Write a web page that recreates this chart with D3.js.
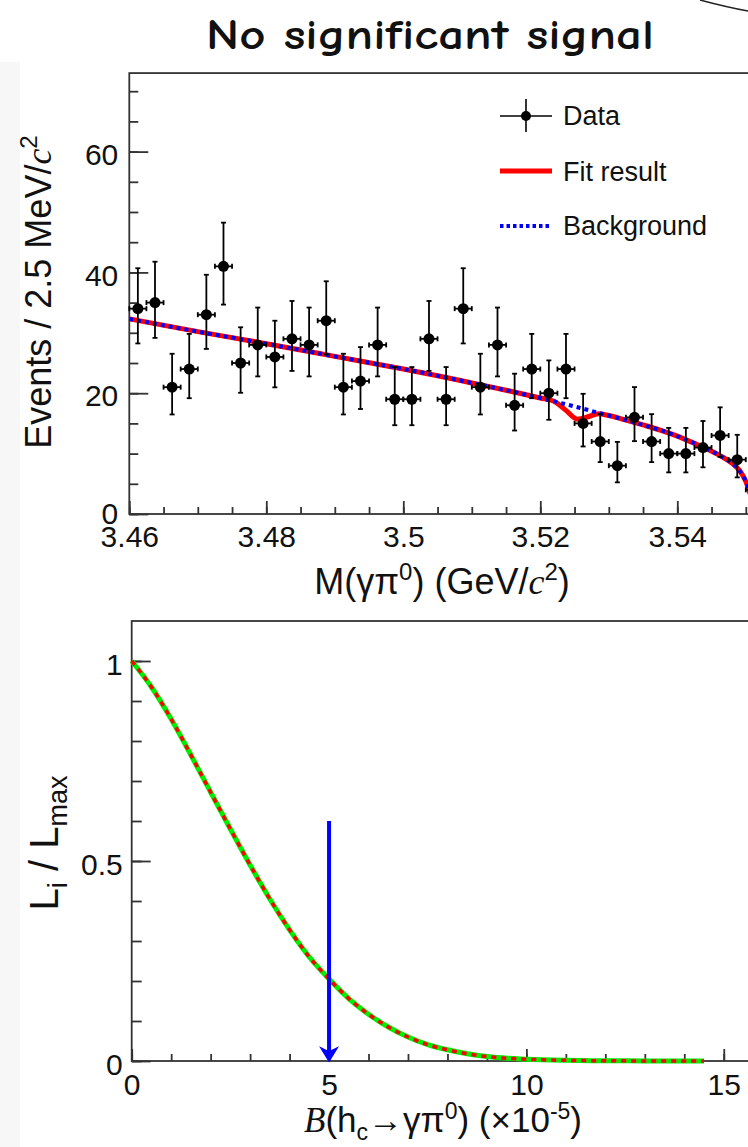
<!DOCTYPE html>
<html>
<head>
<meta charset="utf-8">
<script src="https://cdn.jsdelivr.net/npm/d3@7"></script>
<style>
  body { margin: 0; background: #fff; overflow: hidden; }
  svg { display: block; }
</style>
</head>
<body>
<svg id="chart"></svg>
<script>
// ---- top panel: M(gamma pi0) spectrum, 2.5 MeV bins ----
const binCenters = [3.46125, 3.46375, 3.46625, 3.46875, 3.47125, 3.47375, 3.47625, 3.47875, 3.48125, 3.48375,
    3.48625, 3.48875, 3.49125, 3.49375, 3.49625, 3.49875, 3.50125, 3.50375, 3.50625, 3.50875,
    3.51125, 3.51375, 3.51625, 3.51875, 3.52125, 3.52375, 3.52625, 3.52875, 3.53125, 3.53375,
    3.53625, 3.53875, 3.54125, 3.54375, 3.54625, 3.54875, 3.55125];
const counts = [34, 35, 21, 24, 33, 41, 25, 28, 26, 29, 28, 32, 21, 22, 28, 19, 19, 29, 19, 34,
    21, 28, 18, 24, 20, 24, 15, 12, 8, 16, 12, 10, 10, 11, 13, 9, 4];
const errLow = [5.76, 5.84, 4.52, 4.83, 5.67, 6.33, 4.93, 5.22, 5.03, 5.31, 5.22, 5.58, 4.52, 4.62, 5.22, 4.30, 4.30, 5.31, 4.30, 5.76,
    4.52, 5.22, 4.18, 4.83, 4.40, 4.83, 3.82, 3.41, 2.76, 3.94, 3.41, 3.11, 3.11, 3.27, 3.55, 2.94, 1.91];
const errHigh = [6.69, 6.77, 5.53, 5.82, 6.61, 7.24, 5.91, 6.18, 6.00, 6.27, 6.18, 6.53, 5.53, 5.63, 6.18, 5.33, 5.33, 6.27, 5.33, 6.69,
    5.53, 6.18, 5.23, 5.82, 5.43, 5.82, 4.90, 4.53, 3.94, 5.01, 4.53, 4.26, 4.26, 4.40, 4.66, 4.11, 3.16];
const halfBin = 0.00125;

const bkgMass = [3.460, 3.470, 3.480, 3.490, 3.500, 3.505, 3.510, 3.515, 3.520, 3.525, 3.530, 3.5325, 3.535, 3.5375, 3.540,
    3.5425, 3.545, 3.5465, 3.548, 3.549, 3.5495, 3.550, 3.5505, 3.551, 3.5515];
const bkgValue = [32.3, 30.2, 28.2, 26.1, 24.0, 22.9, 21.7, 20.5, 19.2, 17.8, 16.3, 15.55, 14.75, 13.9, 12.9,
    11.7, 10.4, 9.5, 8.4, 7.3, 6.5, 5.4, 3.8, 2.0, 0];

const fitMass = [3.460, 3.470, 3.480, 3.490, 3.500, 3.505, 3.510, 3.515, 3.520, 3.522, 3.5237, 3.5254, 3.527, 3.5285, 3.530,
    3.5325, 3.535, 3.5375, 3.540, 3.5425, 3.545, 3.5465, 3.548, 3.549, 3.5495, 3.550, 3.5505, 3.551, 3.5515];
const fitValue = [32.3, 30.2, 28.2, 26.1, 24.0, 22.9, 21.7, 20.5, 19.2, 18.65, 17.2, 15.7, 16.1, 16.6, 16.3,
    15.55, 14.75, 13.9, 12.9, 11.7, 10.4, 9.5, 8.4, 7.3, 6.5, 5.4, 3.8, 2.0, 0];

const topXMajor = [3.46, 3.48, 3.5, 3.52, 3.54];
const topXLabels = ["3.46", "3.48", "3.5", "3.52", "3.54"];
const topYMajor = [0, 20, 40, 60];

// ---- bottom panel: normalized likelihood vs branching fraction ----
const brValue = [0, 0.5, 1, 1.5, 2, 2.5, 3, 3.5, 4, 4.5, 5, 5.5, 6, 6.5, 7, 7.5, 8, 8.5, 9, 10, 11, 12, 13, 14.5];
const likelihood = [1.0, 0.935, 0.855, 0.765, 0.672, 0.58, 0.49, 0.405, 0.328, 0.26, 0.205, 0.156, 0.117, 0.085, 0.06,
    0.041, 0.028, 0.018, 0.011, 0.0045, 0.0017, 0.0006, 0.0002, 0];
const upperLimit = 5;
const arrowTop = 0.6;
const botXMajor = [0, 5, 10, 15];
const botYMajor = [0, 0.5, 1];
const botYLabels = ["0", "0.5", "1"];

const width = 748;
const height = 1147;
const tickFont = "'Liberation Sans', Arial, Helvetica, sans-serif";
const serifFont = "'Liberation Serif', 'Times New Roman', serif";
const axisColor = "#333";

const svg = d3.select("#chart")
    .attr("width", width)
    .attr("height", height)
    .attr("viewBox", [0, 0, width, height]);

// faint slide background strip on the left
svg.append("rect").attr("x", 0).attr("y", 62).attr("width", 20).attr("height", height - 62).attr("fill", "#f7f7f7");

// speech bubble edge at the top right
svg.append("path")
    .attr("d", "M700,0 Q726,7 748,11")
    .attr("fill", "none").attr("stroke", "#222").attr("stroke-width", 1.5);

svg.append("text")
    .attr("x", 430).attr("y", 49)
    .attr("text-anchor", "middle")
    .attr("font-family", "'Comic Sans MS', 'Comic Neue', 'DejaVu Sans', sans-serif")
    .attr("font-size", 42)
    .attr("font-weight", 700)
    .attr("textLength", 448)
    .attr("lengthAdjust", "spacingAndGlyphs")
    .attr("fill", "#111")
    .text("No significant signal");

// ================= top panel =================
const x1 = d3.scaleLinear().domain([3.46, 3.56]).range([129.3, 129.3 + 0.1 * 6850]);
const y1 = d3.scaleLinear().domain([0, 73]).range([514, 514 - 73 * 6.04]);

const topPanel = svg.append("g");

topPanel.append("rect")
    .attr("x", x1(3.46)).attr("y", y1(73))
    .attr("width", x1(3.56) - x1(3.46)).attr("height", y1(0) - y1(73))
    .attr("fill", "#fff").attr("stroke", axisColor).attr("stroke-width", 1.8);

function styleAxis(g) {
    g.select(".domain").remove();
    g.selectAll("line").attr("stroke", axisColor).attr("stroke-width", 1.8);
    g.selectAll("text").attr("fill", "#111").attr("font-family", tickFont).attr("font-size", 30);
}

// x axis: major + minor ticks pointing inward
topPanel.append("g")
    .attr("transform", `translate(0,${y1(0)})`)
    .call(d3.axisBottom(x1).tickValues(d3.range(3.46, 3.5501, 0.005)).tickSize(-7).tickFormat(""))
    .call(styleAxis);
topPanel.append("g")
    .attr("transform", `translate(0,${y1(0)})`)
    .call(d3.axisBottom(x1).tickValues(topXMajor).tickSize(-13).tickPadding(12)
        .tickFormat((d, i) => topXLabels[i]))
    .call(styleAxis);

topPanel.append("g")
    .attr("transform", `translate(${x1(3.46)},0)`)
    .call(d3.axisLeft(y1).tickValues(d3.range(0, 71, 5)).tickSize(-9).tickFormat(""))
    .call(styleAxis);
topPanel.append("g")
    .attr("transform", `translate(${x1(3.46)},0)`)
    .call(d3.axisLeft(y1).tickValues(topYMajor).tickSize(-19).tickPadding(11))
    .call(styleAxis)
    .call(g => g.selectAll("text").attr("dy", d => d === 0 ? "0.3em" : "0.42em"));

// fit and background curves
const fitLine = d3.line()
    .x((d, i) => x1(fitMass[i]))
    .y(d => y1(d))
    .curve(d3.curveMonotoneX);
const bkgLine = d3.line()
    .x((d, i) => x1(bkgMass[i]))
    .y(d => y1(d))
    .curve(d3.curveMonotoneX);

topPanel.append("path")
    .attr("d", fitLine(fitValue))
    .attr("fill", "none").attr("stroke", "#ff0000").attr("stroke-width", 5);
topPanel.append("path")
    .attr("d", bkgLine(bkgValue))
    .attr("fill", "none").attr("stroke", "#0000ff").attr("stroke-width", 4)
    .attr("stroke-dasharray", "4,4");

// data points with error bars
const pts = topPanel.append("g").selectAll("g")
    .data(counts)
    .join("g")
    .attr("stroke", "#000")
    .attr("stroke-width", 1.8);

pts.append("line")
    .attr("x1", (d, i) => x1(binCenters[i])).attr("x2", (d, i) => x1(binCenters[i]))
    .attr("y1", (d, i) => y1(d - errLow[i])).attr("y2", (d, i) => y1(d + errHigh[i]));
pts.append("line")
    .attr("x1", (d, i) => x1(binCenters[i]) - 2.5).attr("x2", (d, i) => x1(binCenters[i]) + 2.5)
    .attr("y1", (d, i) => y1(d + errHigh[i])).attr("y2", (d, i) => y1(d + errHigh[i]));
pts.append("line")
    .attr("x1", (d, i) => x1(binCenters[i]) - 2.5).attr("x2", (d, i) => x1(binCenters[i]) + 2.5)
    .attr("y1", (d, i) => y1(d - errLow[i])).attr("y2", (d, i) => y1(d - errLow[i]));
pts.append("line")
    .attr("x1", (d, i) => x1(binCenters[i] - halfBin)).attr("x2", (d, i) => x1(binCenters[i] + halfBin))
    .attr("y1", d => y1(d)).attr("y2", d => y1(d));
pts.append("line")
    .attr("x1", (d, i) => x1(binCenters[i] - halfBin)).attr("x2", (d, i) => x1(binCenters[i] - halfBin))
    .attr("y1", d => y1(d) - 2.5).attr("y2", d => y1(d) + 2.5);
pts.append("line")
    .attr("x1", (d, i) => x1(binCenters[i] + halfBin)).attr("x2", (d, i) => x1(binCenters[i] + halfBin))
    .attr("y1", d => y1(d) - 2.5).attr("y2", d => y1(d) + 2.5);
pts.append("circle")
    .attr("cx", (d, i) => x1(binCenters[i]))
    .attr("cy", d => y1(d))
    .attr("r", 5.5)
    .attr("fill", "#000").attr("stroke", "none");

// legend
const legend = topPanel.append("g").attr("font-family", tickFont).attr("font-size", 27).attr("fill", "#111");
legend.append("line").attr("x1", 500).attr("x2", 552).attr("y1", 116).attr("y2", 116).attr("stroke", "#000").attr("stroke-width", 1.6);
legend.append("line").attr("x1", 526).attr("x2", 526).attr("y1", 99).attr("y2", 132).attr("stroke", "#000").attr("stroke-width", 1.6);
legend.append("circle").attr("cx", 526).attr("cy", 116).attr("r", 5).attr("fill", "#000");
legend.append("text").attr("x", 563).attr("y", 125).text("Data");
legend.append("line").attr("x1", 500).attr("x2", 552).attr("y1", 171).attr("y2", 171).attr("stroke", "#ff0000").attr("stroke-width", 5);
legend.append("text").attr("x", 563).attr("y", 181).text("Fit result");
legend.append("line").attr("x1", 500).attr("x2", 552).attr("y1", 226).attr("y2", 226).attr("stroke", "#0000ff").attr("stroke-width", 4).attr("stroke-dasharray", "3.5,3");
legend.append("text").attr("x", 563).attr("y", 235).text("Background");

// axis titles
const yTitle = topPanel.append("text")
    .attr("transform", "translate(51,292) rotate(-90)")
    .attr("text-anchor", "middle")
    .attr("font-family", tickFont).attr("font-size", 36).attr("fill", "#111");
yTitle.append("tspan").text("Events / 2.5 MeV/");
yTitle.append("tspan").attr("font-family", serifFont).attr("font-style", "italic").text("c");
yTitle.append("tspan").attr("font-size", 24).attr("dy", -14).text("2");

const xTitle = topPanel.append("text")
    .attr("x", 442).attr("y", 594)
    .attr("text-anchor", "middle")
    .attr("font-family", tickFont).attr("font-size", 36).attr("fill", "#111");
xTitle.append("tspan").text("M(γπ");
xTitle.append("tspan").attr("font-size", 24).attr("dy", -14).text("0");
xTitle.append("tspan").attr("dy", 14).text(") (GeV/");
xTitle.append("tspan").attr("font-family", serifFont).attr("font-style", "italic").text("c");
xTitle.append("tspan").attr("font-size", 24).attr("dy", -14).text("2");
xTitle.append("tspan").attr("dy", 14).text(")");

// ================= bottom panel =================
const x2 = d3.scaleLinear().domain([0, 16.5]).range([131.7, 131.7 + 16.5 * 39.47]);
const y2 = d3.scaleLinear().domain([0, 1.1]).range([1061, 1061 - 1.1 * 400]);

const botPanel = svg.append("g");

botPanel.append("rect")
    .attr("x", x2(0)).attr("y", y2(1.1))
    .attr("width", x2(16.5) - x2(0)).attr("height", y2(0) - y2(1.1))
    .attr("fill", "#fff").attr("stroke", axisColor).attr("stroke-width", 1.8);

botPanel.append("g")
    .attr("transform", `translate(0,${y2(0)})`)
    .call(d3.axisBottom(x2).tickValues(d3.range(0, 16.01, 1)).tickSize(-7).tickFormat(""))
    .call(styleAxis);
botPanel.append("g")
    .attr("transform", `translate(0,${y2(0)})`)
    .call(d3.axisBottom(x2).tickValues(botXMajor).tickSize(-12).tickPadding(13).tickFormat(d3.format("d")))
    .call(styleAxis);

botPanel.append("g")
    .attr("transform", `translate(${x2(0)},0)`)
    .call(d3.axisLeft(y2).tickValues(d3.range(0, 1.051, 0.1)).tickSize(-10).tickFormat(""))
    .call(styleAxis);
botPanel.append("g")
    .attr("transform", `translate(${x2(0)},0)`)
    .call(d3.axisLeft(y2).tickValues(botYMajor).tickSize(-19).tickPadding(9)
        .tickFormat((d, i) => botYLabels[i]))
    .call(styleAxis)
    .call(g => g.selectAll("text").attr("dy", "0.45em"));

const likLine = d3.line()
    .x((d, i) => x2(brValue[i]))
    .y(d => y2(d))
    .curve(d3.curveMonotoneX);

botPanel.append("path")
    .attr("d", likLine(likelihood))
    .attr("fill", "none").attr("stroke", "#00ee00").attr("stroke-width", 5);
botPanel.append("path")
    .attr("d", likLine(likelihood))
    .attr("fill", "none").attr("stroke", "#ff0000").attr("stroke-width", 3.5)
    .attr("stroke-dasharray", "5,5");

// upper limit arrow
const ax = x2(upperLimit);
botPanel.append("line")
    .attr("x1", ax).attr("x2", ax)
    .attr("y1", y2(arrowTop)).attr("y2", y2(0) - 6)
    .attr("stroke", "#0000ff").attr("stroke-width", 4);
botPanel.append("path")
    .attr("d", `M${ax},${y2(0)} L${ax - 8},${y2(0) - 13} L${ax},${y2(0) - 9} L${ax + 8},${y2(0) - 13} Z`)
    .attr("fill", "#0000ff").attr("stroke", "#0000ff").attr("stroke-width", 1.5);

const lTitle = botPanel.append("text")
    .attr("transform", "translate(58,843) rotate(-90)")
    .attr("text-anchor", "middle")
    .attr("font-family", tickFont).attr("font-size", 40).attr("fill", "#111");
lTitle.append("tspan").text("L");
lTitle.append("tspan").attr("font-size", 27).attr("dy", 9).text("i");
lTitle.append("tspan").attr("dy", -9).text(" / L");
lTitle.append("tspan").attr("font-size", 27).attr("dy", 9).text("max");

const bTitle = botPanel.append("text")
    .attr("x", 443).attr("y", 1132)
    .attr("text-anchor", "middle")
    .attr("font-family", tickFont).attr("font-size", 35).attr("fill", "#111");
bTitle.append("tspan").attr("font-family", serifFont).attr("font-style", "italic").text("B");
bTitle.append("tspan").text("(h");
bTitle.append("tspan").attr("font-size", 23).attr("dy", 8).text("c");
bTitle.append("tspan").attr("dy", -8).text("→γπ");
bTitle.append("tspan").attr("font-size", 23).attr("dy", -13).text("0");
bTitle.append("tspan").attr("dy", 13).text(") (×10");
bTitle.append("tspan").attr("font-size", 23).attr("dy", -13).text("-5");
bTitle.append("tspan").attr("dy", 13).text(")");
</script>
</body>
</html>
